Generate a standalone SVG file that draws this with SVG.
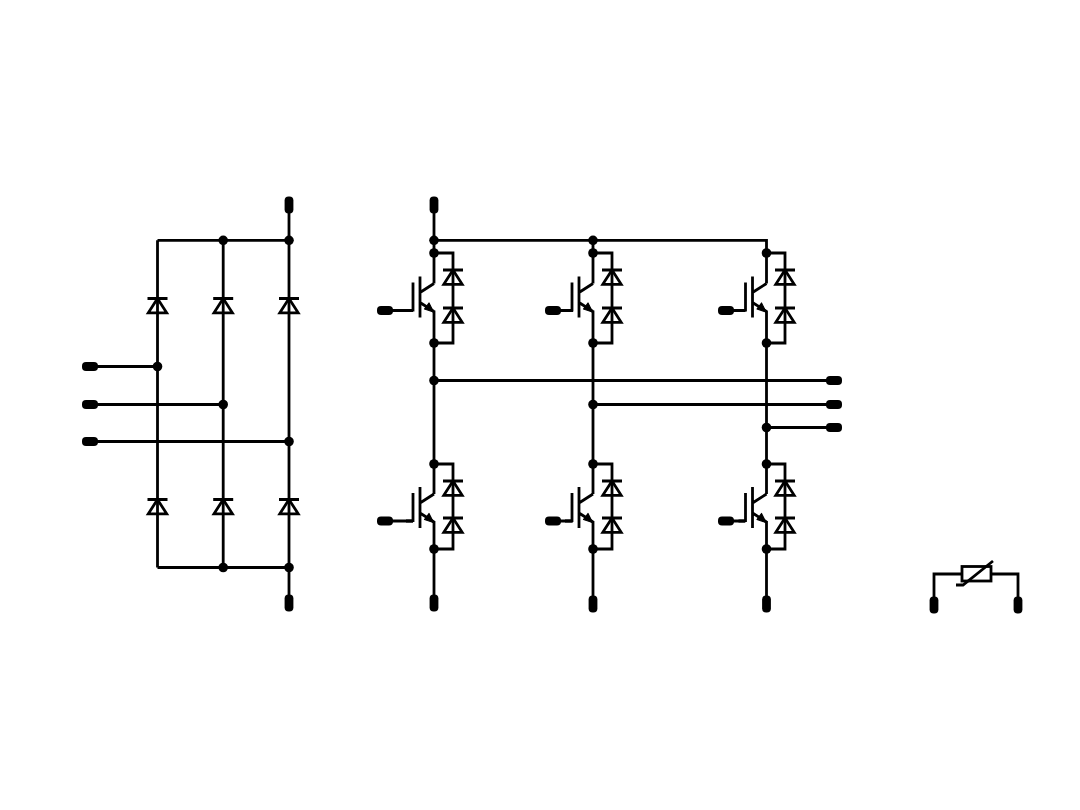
<svg xmlns="http://www.w3.org/2000/svg" xmlns:xlink="http://www.w3.org/1999/xlink" width="1080" height="810" viewBox="0 0 1080 810">
<style>
.w{fill:none;stroke:#000;stroke-width:2.8}
.d{fill:#000}
.a{fill:#000;stroke:#000;stroke-width:1.200;stroke-linejoin:round}
</style>
<defs>
<rect id="th" x="-8" y="-4.400" width="16" height="8.800" rx="4" class="d"/>
<rect id="tv" x="-4.400" y="-8.500" width="8.800" height="17" rx="4" class="d"/>
<circle id="n" r="4.800" class="d"/>
<path id="diode" class="w" d="M-10 0H10M0 0L-9.200 14.300H9.200Z"/>
<g id="igbt">
<path class="w" d="M-21 -28V1M-14 -34V7M-14 -18L0 -27M-14 -8L0 1M-28 0H-21"/>
<path class="a" d="M-0.500 1.500L-9.500 -1.500L-5 -7.500Z"/>
</g>
</defs>
<rect width="1080" height="810" fill="#fff"/>
<g id="connectors" class="w">
<path d="M289 205V603M157.500 240.300H289M157.500 567.500H289M157.500 240.300V567.500M223.200 240.300V567.500"/>
<path d="M90 366.500H157.500M90 404.500H223.200M90 441.500H289"/>
<path d="M434 205V283.500M434 310.500V494M434 521V603M434 240.300H766.500V283.500M593 240.300V283.500M593 310.500V494M766.500 310.500V494M593 521V604M766.500 521V604M434 380.500H834M593 404.500H834M766.500 427.500H834"/>
<path d="M434 253H453V343H434M593 253H612V343H593M766.500 253H785V343H766.500"/>
<path d="M434 464H453V549H434M593 464H612V549H593M766.500 464H785V549H766.500"/>
<path d="M934 604V574H962M991 574H1018V604"/>
<path d="M385 310.500H413M553 310.500H573M726 310.500H745M385 521H413M553 521H573M726 521H745"/>
</g>
<g id="terminals">
<use href="#tv" x="289" y="205"/><use href="#tv" x="289" y="603"/>
<use href="#tv" x="434" y="205"/><use href="#tv" x="434" y="603"/>
<use href="#tv" x="593" y="604"/><use href="#tv" x="766.500" y="604"/>
<use href="#tv" x="934" y="605"/><use href="#tv" x="1018" y="605"/>
<use href="#th" x="90" y="366.500"/><use href="#th" x="90" y="404.500"/><use href="#th" x="90" y="441.500"/>
<use href="#th" x="834" y="380.500"/><use href="#th" x="834" y="404.500"/><use href="#th" x="834" y="427.500"/>
<use href="#th" x="385" y="310.500"/><use href="#th" x="553" y="310.500"/><use href="#th" x="726" y="310.500"/>
<use href="#th" x="385" y="521"/><use href="#th" x="553" y="521"/><use href="#th" x="726" y="521"/>
</g>
<g id="junctions">
<use href="#n" x="223.200" y="240.300"/><use href="#n" x="289" y="240.300"/><use href="#n" x="223.200" y="567.500"/><use href="#n" x="289" y="567.500"/>
<use href="#n" x="157.500" y="366.500"/><use href="#n" x="223.200" y="404.500"/><use href="#n" x="289" y="441.500"/>
<use href="#n" x="434" y="240.300"/><use href="#n" x="593" y="240.300"/>
<use href="#n" x="434" y="253"/><use href="#n" x="593" y="253"/><use href="#n" x="766.500" y="253"/>
<use href="#n" x="434" y="343"/><use href="#n" x="593" y="343"/><use href="#n" x="766.500" y="343"/>
<use href="#n" x="434" y="380.500"/><use href="#n" x="593" y="404.500"/><use href="#n" x="766.500" y="427.500"/>
<use href="#n" x="434" y="464"/><use href="#n" x="593" y="464"/><use href="#n" x="766.500" y="464"/>
<use href="#n" x="434" y="549"/><use href="#n" x="593" y="549"/><use href="#n" x="766.500" y="549"/>
</g>
<g id="rectifier-diodes">
<use href="#diode" x="157.500" y="298.500"/><use href="#diode" x="223.200" y="298.500"/><use href="#diode" x="289" y="298.500"/>
<use href="#diode" x="157.500" y="499.500"/><use href="#diode" x="223.200" y="499.500"/><use href="#diode" x="289" y="499.500"/>
</g>
<g id="q1"><use href="#igbt" x="434" y="310.500"/><use href="#diode" x="453" y="270"/><use href="#diode" x="453" y="308"/></g>
<g id="q2"><use href="#igbt" x="593" y="310.500"/><use href="#diode" x="612" y="270"/><use href="#diode" x="612" y="308"/></g>
<g id="q3"><use href="#igbt" x="766.500" y="310.500"/><use href="#diode" x="785" y="270"/><use href="#diode" x="785" y="308"/></g>
<g id="q4"><use href="#igbt" x="434" y="521"/><use href="#diode" x="453" y="481"/><use href="#diode" x="453" y="518"/></g>
<g id="q5"><use href="#igbt" x="593" y="521"/><use href="#diode" x="612" y="481"/><use href="#diode" x="612" y="518"/></g>
<g id="q6"><use href="#igbt" x="766.500" y="521"/><use href="#diode" x="785" y="481"/><use href="#diode" x="785" y="518"/></g>
<g id="varistor">
<rect class="w" x="962" y="566.500" width="29" height="14.500"/>
<path class="w" d="M993 561L963 585H956"/>
</g>
</svg>
